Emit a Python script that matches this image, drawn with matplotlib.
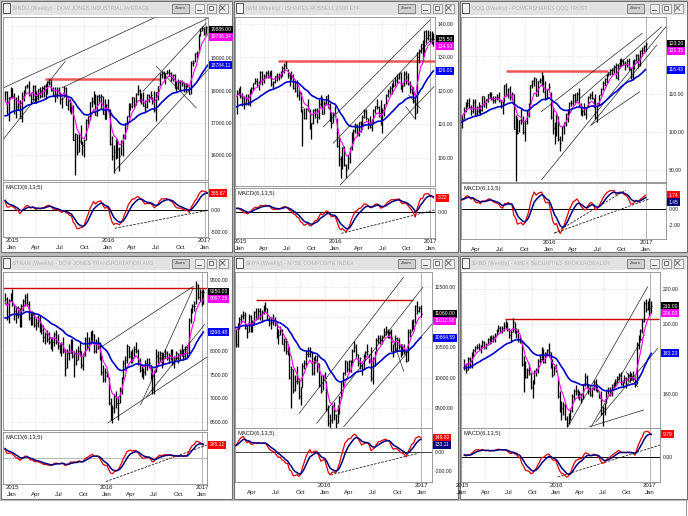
import numpy as np
import matplotlib
matplotlib.use("Agg")
import matplotlib.pyplot as plt
import matplotlib.dates as mdates
import matplotlib.transforms as mtransforms
from matplotlib.collections import LineCollection
from matplotlib.patches import Rectangle
from matplotlib.ticker import FormatStrFormatter

# ======================= DATA =======================
# ---- $INDU weekly, first bar week ending 2014-12-05
INDU_START = "2014-12-05"
INDU_HIGH = [17991, 17990, 17804, 18103, 18090, 17916, 17794, 17864, 17700, 17951,
             18020, 18140, 18206, 18288, 17960, 18160, 18180, 17980, 18060, 18110,
             18130, 18175, 18200, 18290, 18351, 18320, 18100, 18100, 18110, 18120,
             17950, 17800, 18130, 18100, 17760, 17730, 17650, 17550, 16700, 16640,
             16660, 16930, 16450, 16500, 17120, 17220, 17650, 17800, 17980, 17900,
             17870, 17880, 17900, 17840, 17750, 17600, 17750, 17420, 16600, 16300,
             16500, 16510, 16250, 16470, 16670, 17010, 17220, 17620, 17630, 17800,
             17800, 17920, 18168, 18040, 17920, 17950, 17720, 17900, 17900, 18000,
             17800, 18000, 17950, 18150, 18540, 18620, 18600, 18560, 18640, 18668,
             18580, 18500, 18500, 18300, 18360, 18340, 18330, 18280, 18250, 18250,
             18170, 18930, 18935, 19150, 19230, 19760, 19950, 19990, 19980, 19999,
             19980]
INDU_LOW = [17700, 17280, 17068, 17770, 17780, 17262, 17136, 17400, 17136, 17037,
            17686, 17930, 18080, 17835, 17602, 17700, 17630, 17630, 17700, 17780,
            17790, 17800, 17730, 17890, 18180, 17990, 17820, 17650, 17780, 17880,
            17580, 17470, 17800, 17560, 17400, 17330, 17270, 16459, 15370, 16000,
            16100, 16330, 16000, 15940, 16470, 16900, 17100, 17480, 17600, 17240,
            17200, 17660, 17420, 17260, 17130, 17110, 17400, 16300, 15840, 15450,
            15880, 15900, 15500, 15990, 15960, 16510, 16820, 17190, 17400, 17470,
            17480, 17550, 17860, 17650, 17580, 17530, 17330, 17450, 17660, 17740,
            17600, 17350, 17060, 17700, 18160, 18400, 18350, 18200, 18500, 18460,
            18310, 18300, 18080, 17990, 18050, 17990, 18140, 17960, 17950, 18100,
            17880, 17880, 18750, 18900, 19000, 19170, 19700, 19860, 19720, 19760,
            19780]
INDU_CLOSE = [17958, 17280, 17804, 18053, 17833, 17737, 17511, 17672, 17165, 17824,
              18019, 18140, 18133, 17856, 17749, 18128, 17713, 17763, 18058, 17826,
              18080, 18024, 18191, 18272, 18232, 18011, 17849, 17899, 18015, 17947,
              17730, 17760, 18086, 17568, 17690, 17373, 17477, 16460, 16643, 16102,
              16433, 16385, 16315, 16472, 17084, 17215, 17646, 17664, 17910, 17245,
              17824, 17798, 17847, 17265, 17128, 17552, 17425, 16346, 15988, 16093,
              16466, 16205, 15973, 16392, 16639, 17006, 17213, 17602, 17515, 17792,
              17577, 17897, 18003, 17773, 17740, 17535, 17500, 17873, 17807, 17865,
              17675, 17400, 17949, 18146, 18516, 18570, 18432, 18543, 18576, 18552,
              18395, 18492, 18085, 18124, 18261, 18308, 18240, 18138, 18145, 18161,
              17888, 18847, 18868, 19152, 19171, 19757, 19843, 19934, 19763, 19964,
              19886]
# seeds: fast MA, slow MA, MACD, signal at the left edge
INDU_SEEDS = [17570, 17170, 227, 230]
INDU_YTICKS = [16000, 17000, 18000, 19000, 20000]
INDU_MTICKS = [-500, 0, 500]
INDU_RED = ["2015-05-05", "2016-07-15", 18350]
INDU_TREND = [("2014-11-28", 18083, "2016-07-02", 20286),
              ("2014-11-28", 16492, "2015-07-21", 18902),
              ("2015-07-08", 18083, "2017-01-12", 20237),
              ("2016-01-26", 15517, "2017-01-20", 18698),
              ("2016-05-12", 17979, "2017-01-07", 20083),
              ("2016-07-02", 18748, "2016-11-30", 17468)]
INDU_MTREND = [("2016-01-26", -416, "2017-01-20", 0)]

# ---- IWM weekly, first bar 2014-12-19
IWM_START = "2014-12-19"
IWM_HIGH = [120.2, 121.0, 121.5, 119.5, 118.5, 119.2, 119.0, 120.5, 121.2, 122.3,
            123.8, 124.0, 123.0, 126.0, 126.0, 125.0, 125.9, 126.3, 126.0, 126.2,
            123.0, 124.6, 125.3, 125.5, 126.0, 127.5, 128.5, 129.1, 126.5, 125.5,
            126.0, 125.0, 123.0, 123.3, 120.3, 119.8, 114.5, 115.0, 115.0, 117.5,
            114.5, 110.5, 114.5, 115.0, 115.0, 117.5, 118.8, 118.3, 117.0, 118.5,
            119.0, 116.5, 113.8, 113.7, 115.5, 112.0, 106.2, 100.5, 103.2, 103.5,
            98.2, 100.8, 103.3, 107.8, 108.5, 110.5, 110.0, 110.7, 111.0, 112.7,
            114.7, 114.5, 112.0, 112.5, 111.5, 114.5, 115.6, 117.5, 115.5, 117.3,
            115.0, 116.0, 119.2, 120.5, 121.5, 122.4, 123.3, 124.3, 125.0, 125.5,
            125.8, 122.5, 126.0, 125.9, 125.5, 123.0, 121.6, 121.3, 118.0, 131.5,
            132.5, 134.1, 135.1, 138.0, 138.3, 138.2, 137.8, 137.8, 137.4]
IWM_LOW = [113.2, 118.8, 118.0, 115.6, 114.7, 115.8, 115.8, 115.5, 119.0, 120.3,
           122.0, 121.5, 120.3, 122.0, 121.7, 122.5, 124.0, 124.0, 124.0, 121.5,
           120.6, 122.3, 123.0, 123.2, 123.8, 124.5, 125.5, 126.8, 124.0, 121.5,
           123.5, 120.5, 119.7, 118.3, 117.3, 113.6, 103.5, 111.5, 111.7, 114.0,
           108.7, 105.5, 110.0, 111.8, 110.5, 111.6, 115.5, 113.0, 113.0, 115.8,
           114.8, 111.0, 108.9, 110.5, 112.4, 103.3, 97.5, 94.0, 96.6, 97.5,
           94.0, 96.8, 98.5, 102.5, 104.5, 107.5, 106.5, 106.4, 107.8, 108.5,
           112.0, 111.2, 108.5, 109.0, 108.0, 110.8, 113.5, 114.7, 112.3, 109.8,
           107.5, 112.5, 116.1, 118.3, 119.0, 119.0, 121.2, 121.5, 122.4, 123.5,
           120.6, 119.6, 121.5, 122.0, 121.7, 119.5, 119.0, 116.3, 111.5, 113.5,
           128.5, 131.3, 128.9, 130.5, 134.2, 135.3, 134.5, 134.0, 133.5]
IWM_CLOSE = [119.5, 120.5, 118.6, 118.0, 116.4, 117.8, 116.2, 120.0, 121.0, 122.3,
             123.0, 121.5, 122.6, 125.6, 123.5, 124.4, 125.5, 124.2, 125.5, 122.0,
             122.7, 124.4, 124.5, 124.5, 125.9, 126.9, 127.9, 127.0, 124.9, 123.5,
             124.5, 120.8, 122.5, 118.8, 119.8, 113.7, 115.1, 111.9, 114.7, 114.9,
             109.0, 110.5, 114.2, 114.3, 112.2, 116.0, 118.4, 113.1, 116.3, 118.4,
             116.0, 111.0, 110.4, 113.1, 112.6, 103.6, 99.6, 99.4, 103.0, 98.0,
             96.3, 100.0, 103.0, 107.6, 108.1, 109.9, 106.9, 110.6, 108.5, 112.2,
             113.9, 111.8, 110.5, 109.3, 110.7, 114.3, 115.5, 115.1, 113.4, 110.0,
             114.4, 116.0, 118.9, 120.0, 121.0, 122.3, 121.5, 123.3, 123.8, 125.4,
             120.7, 121.6, 125.0, 124.2, 122.0, 120.5, 119.6, 117.3, 113.5, 130.1,
             131.8, 134.1, 129.9, 137.9, 135.9, 136.7, 134.9, 136.6, 135.5]
IWM_SEEDS = [118.0, 115.0, 0.9, 0.9]
IWM_YTICKS = [100, 110, 120, 130, 140]
IWM_MTICKS = [0, 5]
IWM_RED = ["2015-05-27", "2017-01-19", 129.0]
IWM_TREND = [("2015-11-17", 109.3, "2016-12-31", 141.2),
             ("2015-12-25", 104.4, "2017-01-15", 136.2),
             ("2016-01-20", 91.9, "2017-01-15", 121.3),
             ("2016-10-09", 118.8, "2016-11-24", 114.8),
             ("2016-09-29", 115.3, "2016-11-01", 111.9)]
IWM_MTREND = [("2016-01-25", -4.85, "2017-01-17", 0.45)]

# ---- QQQ weekly, first bar 2015-02-06
QQQ_START = "2015-02-06"
QQQ_HIGH = [104.5, 106.5, 107.8, 108.8, 109.0, 107.0, 108.8, 108.6, 106.8, 107.8,
            107.2, 109.5, 109.6, 108.8, 110.0, 110.5, 110.5, 109.5, 109.5, 110.0,
            110.5, 108.5, 108.2, 112.5, 113.0, 111.5, 112.0, 110.5, 110.0, 104.5,
            103.8, 103.2, 106.0, 104.2, 102.8, 105.7, 107.5, 112.5, 113.8, 114.5,
            114.3, 113.5, 114.3, 115.9, 115.0, 113.5, 111.4, 112.8, 110.5, 106.5,
            102.5, 104.8, 104.3, 99.0, 101.5, 102.5, 105.0, 106.0, 108.0, 108.5,
            110.0, 110.2, 110.5, 111.5, 107.5, 106.0, 107.5, 106.5, 109.5, 110.2,
            110.8, 109.0, 110.0, 107.7, 109.8, 111.5, 113.3, 114.2, 115.2, 115.8,
            116.5, 116.8, 117.6, 118.3, 117.8, 119.3, 119.5, 119.2, 118.7, 119.1,
            119.5, 116.8, 119.0, 119.2, 120.5, 120.6, 121.5, 122.3, 123.0, 123.7]
QQQ_LOW = [101.0, 103.5, 105.2, 106.5, 106.3, 104.5, 105.0, 104.3, 104.5, 105.0,
           104.8, 105.5, 106.5, 106.2, 108.0, 109.0, 108.5, 107.5, 107.5, 108.3,
           108.0, 106.2, 104.6, 108.0, 109.5, 109.0, 108.5, 108.5, 100.8, 87.0,
           99.5, 100.0, 102.0, 99.5, 97.5, 102.0, 104.0, 106.8, 111.5, 112.0,
           109.5, 109.5, 112.8, 112.0, 110.5, 108.5, 108.8, 111.0, 103.5, 99.5,
           96.8, 99.0, 97.5, 94.9, 97.5, 99.5, 101.5, 102.5, 105.0, 106.8,
           107.0, 107.5, 108.2, 106.5, 104.5, 104.2, 104.5, 103.5, 106.5, 108.7,
           108.8, 106.5, 103.5, 102.6, 107.0, 109.8, 111.0, 112.0, 113.0, 114.8,
           115.0, 115.0, 115.5, 114.2, 113.8, 116.8, 117.5, 117.7, 116.2, 117.0,
           116.3, 114.0, 113.7, 116.5, 118.8, 116.8, 117.5, 120.3, 121.2, 121.4]
QQQ_CLOSE = [103.5, 105.8, 107.2, 107.6, 106.5, 105.5, 108.0, 105.0, 105.6, 107.2,
             105.8, 109.4, 107.7, 108.7, 109.9, 110.2, 108.7, 108.5, 108.9, 109.2,
             108.4, 107.0, 107.5, 112.3, 109.8, 111.2, 109.3, 110.1, 100.9, 104.0,
             99.8, 103.2, 103.0, 99.9, 102.8, 105.6, 107.4, 112.3, 113.3, 114.2,
             109.6, 113.4, 113.7, 114.3, 110.5, 108.7, 111.4, 111.9, 103.9, 101.0,
             102.0, 104.5, 98.1, 97.0, 101.2, 102.3, 104.7, 105.8, 107.7, 107.7,
             109.8, 108.3, 109.9, 106.9, 104.9, 105.4, 104.8, 106.2, 109.3, 109.8,
             108.9, 106.6, 104.0, 107.6, 109.7, 111.3, 113.0, 113.9, 115.0, 115.4,
             116.3, 116.2, 117.2, 114.3, 117.4, 119.1, 118.7, 118.3, 118.0, 118.6,
             116.6, 114.8, 117.5, 119.0, 120.3, 117.8, 121.3, 121.5, 122.7, 123.2]
QQQ_SEEDS = [104.5, 102.6, 1.3, 1.3]
QQQ_YTICKS = [90, 100, 110, 120]
QQQ_MTICKS = [-2, 0, 2]
QQQ_RED = ["2015-07-23", "2016-08-09", 116.1]
QQQ_TREND = [("2015-12-04", 87.4, "2017-03-16", 127.7),
             ("2015-12-02", 105.3, "2016-12-17", 126.0),
             ("2016-04-27", 108.9, "2017-02-28", 127.7),
             ("2016-06-07", 101.8, "2017-02-10", 122.9),
             ("2016-06-07", 101.8, "2016-12-08", 110.6)]
QQQ_MTREND = [("2016-01-21", -3.06, "2016-10-16", 2.4),
              ("2016-01-21", -3.06, "2017-01-12", 1.26)]

# ---- $TRAN weekly, first bar 2014-12-05
TRAN_START = "2014-12-05"
TRAN_HIGH = [9220, 9150, 9100, 9230, 9300, 9000, 8950, 8950, 8900, 9000,
             9100, 9200, 9220, 9050, 8800, 8850, 8800, 8700, 8750, 8750,
             8600, 8550, 8400, 8450, 8400, 8300, 8300, 8400, 8450, 8350,
             8150, 8200, 8300, 8050, 8050, 8150, 8250, 8250, 8000, 8050,
             8100, 8200, 8000, 7950, 8300, 8400, 8300, 8420, 8450, 8350,
             8250, 8300, 8200, 7950, 7700, 7650, 7600, 7450, 7000, 6850,
             7100, 7150, 7050, 7250, 7450, 7800, 7900, 8150, 8100, 8000,
             8050, 8100, 8200, 8050, 7850, 7700, 7650, 7800, 7850, 7850,
             7700, 7650, 7600, 8050, 8000, 8000, 7980, 7950, 8050, 8000,
             7950, 8050, 8050, 7900, 8000, 7950, 8050, 8150, 8050, 8100,
             8100, 8700, 8900, 9000, 9050, 9480, 9420, 9300, 9280, 9300]
TRAN_LOW = [9000, 8650, 8600, 9050, 8950, 8650, 8600, 8700, 8500, 8500,
            8850, 8950, 8950, 8650, 8550, 8550, 8500, 8450, 8500, 8400,
            8350, 8200, 8150, 8200, 8150, 8050, 8000, 8100, 8150, 8050,
            7950, 7900, 7950, 7480, 7650, 7800, 7950, 7850, 7450, 7700,
            7800, 7900, 7650, 7600, 7900, 8050, 8000, 8150, 8200, 7950,
            7950, 8050, 7800, 7500, 7350, 7350, 7450, 6850, 6550, 6480,
            6700, 6800, 6550, 6900, 7100, 7400, 7600, 7750, 7850, 7750,
            7750, 7850, 7950, 7700, 7550, 7450, 7400, 7500, 7600, 7650,
            7400, 7100, 7100, 7550, 7750, 7780, 7650, 7700, 7850, 7800,
            7750, 7800, 7700, 7650, 7800, 7750, 7800, 7900, 7800, 7850,
            7850, 7950, 8600, 8800, 8850, 9000, 9100, 9050, 8950, 9000]
TRAN_CLOSE = [9100, 8700, 9080, 9200, 9000, 8850, 8750, 8900, 8550, 8950,
              9050, 9150, 9000, 8700, 8650, 8800, 8550, 8600, 8700, 8450,
              8450, 8300, 8350, 8250, 8200, 8100, 8200, 8350, 8200, 8100,
              8050, 8150, 8000, 7650, 7950, 7950, 8150, 7900, 7950, 7800,
              8000, 7950, 7700, 7900, 8250, 8100, 8200, 8300, 8350, 8000,
              8150, 8200, 7900, 7550, 7400, 7550, 7500, 6900, 6650, 6800,
              7050, 6900, 6900, 7200, 7400, 7750, 7800, 8100, 7900, 7950,
              7800, 8050, 8000, 7750, 7600, 7500, 7550, 7750, 7700, 7750,
              7450, 7200, 7550, 7900, 7850, 7950, 7750, 7900, 7950, 7850,
              7900, 8000, 7750, 7850, 7950, 7850, 8000, 7950, 7900, 8050,
              7950, 8650, 8850, 8950, 8950, 9400, 9150, 9250, 9050, 9250]
TRAN_SEEDS = [9040, 8670, 214, 214]
TRAN_YTICKS = [6500, 7000, 7500, 8000, 8500, 9000, 9500]
TRAN_MTICKS = []
TRAN_RED = ["2014-11-27", "2017-01-20", 9326]
TRAN_TREND = [("2015-11-28", 8042, "2016-11-28", 9361),
              ("2016-01-04", 6480, "2017-01-19", 7869),
              ("2016-05-09", 6861, "2016-11-28", 9326),
              ("2016-06-01", 7036, "2017-01-11", 8562)]
TRAN_MTREND = [("2015-12-28", -508, "2017-01-19", 279)]

# ---- $NYA weekly, first bar 2015-01-30
NYA_START = "2015-01-30"
NYA_HIGH = [10800, 10900, 11000, 11050, 11100, 11080, 10850, 11050, 11030, 10950,
            11100, 11150, 11150, 11150, 11120, 11200, 11254, 11150, 11000, 11000,
            11050, 11000, 10900, 10800, 10850, 10800, 10650, 10650, 10550, 10500,
            10200, 10150, 10050, 10200, 10000, 9850, 10250, 10300, 10450, 10500,
            10500, 10450, 10350, 10380, 10380, 10250, 10050, 10050, 10100, 9950,
            9550, 9400, 9550, 9600, 9400, 9550, 9700, 9950, 10100, 10300,
            10280, 10300, 10300, 10480, 10600, 10550, 10400, 10350, 10250, 10400,
            10450, 10550, 10400, 10500, 10350, 10450, 10650, 10700, 10700, 10700,
            10820, 10850, 10800, 10780, 10800, 10550, 10700, 10680, 10650, 10550,
            10550, 10550, 10450, 10800, 10800, 10950, 10980, 11200, 11270, 11180,
            11200]
NYA_LOW = [10500, 10500, 10800, 10900, 10980, 10800, 10650, 10750, 10750, 10750,
           10880, 10950, 10980, 10950, 10930, 11050, 11100, 10950, 10850, 10800,
           10880, 10850, 10650, 10550, 10700, 10550, 10450, 10400, 10380, 9980,
           9500, 9750, 9780, 9900, 9650, 9550, 9850, 10150, 10200, 10350,
           10350, 10050, 10050, 10250, 10100, 9850, 9750, 9800, 9950, 9450,
           9200, 9030, 9250, 9300, 9050, 9250, 9400, 9650, 9850, 10050,
           10100, 10100, 10100, 10250, 10420, 10350, 10200, 10150, 10050, 10150,
           10300, 10380, 10250, 9950, 9900, 10200, 10450, 10580, 10550, 10550,
           10680, 10700, 10650, 10650, 10450, 10350, 10450, 10450, 10480, 10350,
           10380, 10400, 10260, 10280, 10680, 10780, 10800, 10900, 11050, 11080,
           11000]
NYA_CLOSE = [10550, 10850, 10980, 11020, 11040, 10820, 10750, 11020, 10820, 10900,
             11080, 10980, 11100, 11050, 11080, 11150, 11150, 10980, 10900, 10930,
             10950, 10900, 10750, 10700, 10800, 10560, 10600, 10450, 10500, 10000,
             10150, 9800, 9950, 9950, 9700, 9850, 10200, 10250, 10400, 10400,
             10450, 10080, 10320, 10300, 10250, 9880, 9780, 10030, 10000, 9480,
             9250, 9300, 9530, 9380, 9250, 9500, 9680, 9950, 10080, 10280,
             10150, 10280, 10200, 10450, 10500, 10400, 10250, 10200, 10150, 10380,
             10420, 10450, 10300, 10000, 10330, 10420, 10620, 10650, 10620, 10680,
             10750, 10780, 10700, 10750, 10450, 10450, 10650, 10620, 10520, 10450,
             10480, 10420, 10280, 10750, 10760, 10950, 10850, 11180, 11100, 11150,
             11060]
NYA_SEEDS = [10880, 10850, 74, 74]
NYA_YTICKS = [9500, 10000, 10500, 11000, 11500]
NYA_MTICKS = [-200, 0, 200]
NYA_RED = ["2015-04-16", "2016-11-30", 11283]
NYA_TREND = [("2015-09-27", 9411, "2016-10-25", 11662),
             ("2015-12-02", 9244, "2017-01-06", 11495),
             ("2016-03-13", 9189, "2017-02-09", 10883),
             ("2016-09-04", 10772, "2016-10-26", 10105)]
NYA_MTREND = [("2016-01-23", -242, "2016-12-19", -14)]

# ---- $XBD weekly, first bar 2015-01-09
XBD_START = "2015-01-09"
XBD_HIGH = [180, 178, 181, 181, 184, 186, 187.5, 188.5, 189, 188,
            191, 190.5, 189, 192, 193, 193.5, 194, 195, 197, 199.5,
            199, 199, 201, 202, 201, 198, 197, 203.3, 201, 197.5,
            197, 193, 191, 182, 179, 175, 178, 172, 168, 174,
            175, 180, 183, 187, 186, 184, 186, 189, 184, 180,
            176, 177, 170, 162, 156, 155.5, 155, 147.5, 149, 152,
            160, 163, 165, 163, 162, 160.5, 166, 172, 171, 165.5,
            164, 164, 168, 168.5, 166, 162, 162, 153, 155, 162,
            164, 164, 165.5, 167, 168.5, 170.5, 172, 172.5, 168, 171,
            170, 172, 173, 172, 173, 170, 190, 193.5, 197, 203,
            213, 214, 213, 215, 213]
XBD_LOW = [174, 172, 174, 175, 175, 182, 184, 185.5, 185, 183.5,
           186.5, 186, 186, 188, 188.5, 189, 189.5, 190, 193.5, 195.5,
           195.5, 195, 196, 197.5, 196, 192, 190, 195.5, 195, 192,
           190, 189, 176, 161, 169, 169, 171, 163, 158, 166,
           170.5, 172, 177.5, 179.5, 178, 178, 182, 181, 175, 170,
           171, 172.5, 158, 150, 145, 148, 145, 141, 143, 145,
           150, 156, 159.5, 158, 156.5, 155, 157, 164.5, 164, 160,
           159, 158.5, 162.5, 162, 161, 157.5, 148, 142, 148, 155,
           160, 159, 159, 164, 164.5, 166, 168, 165, 164, 166.5,
           163.5, 167.5, 167, 168, 168, 164, 165.5, 186, 191, 195,
           201, 207, 208, 205, 206]
XBD_CLOSE = [176, 174, 180, 176, 183, 185, 187, 187, 186, 187,
             190, 187, 188, 191.5, 189, 192, 192.5, 194, 196, 198,
             196, 197.5, 199, 198.5, 197, 194, 195.5, 201, 195.5, 196,
             191, 192, 177, 178, 170, 174, 172, 164, 167, 173,
             173, 179, 180, 186.5, 178.5, 183.5, 185, 184, 175.5, 171,
             175, 173, 159, 153, 152, 154, 146, 143.5, 147, 151,
             159, 162, 162, 159, 160, 157, 165, 170, 165, 162,
             159.5, 163, 167, 163.5, 161.5, 158, 149, 152, 154.5, 161.5,
             162.5, 160.5, 165, 165.5, 167.5, 169.5, 171, 165.5, 167, 169,
             168.5, 171, 170, 170.5, 169, 165.5, 188, 192, 196.5, 201.5,
             212, 208.5, 211, 209, 210]
XBD_SEEDS = [177.7, 174.9, 1.0, 1.0]
XBD_YTICKS = [160, 180, 200, 220]
XBD_MTICKS = [0, 10]
XBD_RED = ["2015-06-16", "2017-02-06", 202.9]
XBD_TREND = [("2016-02-16", 141.3, "2016-12-23", 221.3),
             ("2016-05-17", 141.3, "2016-12-10", 193.7),
             ("2016-06-05", 144.2, "2017-01-31", 186.1),
             ("2016-05-11", 141.3, "2016-12-07", 150.9),
             ("2016-09-30", 172.7, "2016-11-14", 164.2)]
XBD_MTREND = [("2016-01-08", -8.6, "2017-02-09", 5.2)]

TITLES = {
    'INDU': "$INDU (Weekly) - DOW JONES INDUSTRIAL AVERAGE",
    'IWM': "IWM (Weekly) - ISHARES RUSSELL 2000 ETF",
    'QQQ': "QQQ (Weekly) - POWERSHARES QQQ TRUST",
    'TRAN': "$TRAN (Weekly) - DOW JONES TRANSPORTATION AVG",
    'NYA': "$NYA (Weekly) - NYSE COMPOSITE INDEX",
    'XBD': "$XBD (Weekly) - AMEX SECURITIES BROKER/DEALER",
}

# ======================= LAYOUT (pixels) =======================
FW, FH = 688, 516
LAYOUT = {
    'INDU': dict(win=(0, 0, 233, 253), price=(3, 17, 208, 180), macd=(3, 182, 208, 237),
                 xlim=("2014-11-27", "2017-01-14"), ylim=(15230, 20280), mylim=(-614, 636),
                 red_lw=1.8, red_c='#f05555', zero_c='#000000', navy_box=False),
    'IWM': dict(win=(233, 0, 459, 253), price=(235, 17, 435, 186), macd=(235, 188, 435, 238),
                xlim=("2014-12-12", "2017-01-19"), ylim=(91.6, 142.1), mylim=(-5.9, 5.45),
                red_lw=1.8, red_c='#f05555', zero_c='#000000', navy_box=False),
    'QQQ': dict(win=(459, 0, 688, 253), price=(461, 17, 666, 182), macd=(461, 183, 666, 239),
                xlim=("2015-02-03", "2017-03-17"), ylim=(86.8, 130.3), mylim=(-3.8, 3.3),
                red_lw=1.8, red_c='#f05555', zero_c='#000000', navy_box=True),
    'TRAN': dict(win=(0, 255, 233, 500), price=(3, 272, 207, 430), macd=(3, 432, 207, 484),
                 xlim=("2014-11-27", "2017-01-20"), ylim=(6333, 9667), mylim=(-560, 560),
                 red_lw=1.0, red_c='#d00000', zero_c='#b8b8b8', navy_box=False),
    'NYA': dict(win=(233, 255, 459, 500), price=(235, 272, 432, 428), macd=(235, 428, 432, 482),
                xlim=("2015-01-27", "2017-02-10"), ylim=(9167, 11750), mylim=(-316, 253),
                red_lw=1.0, red_c='#d00000', zero_c='#404040', navy_box=True),
    'XBD': dict(win=(459, 255, 688, 500), price=(461, 272, 660, 428), macd=(461, 428, 660, 482),
                xlim=("2014-12-27", "2017-02-09"), ylim=(140.6, 229.7), mylim=(-10.8, 12.6),
                red_lw=1.0, red_c='#d00000', zero_c='#000000', navy_box=False),
}

plt.rcParams['font.family'] = ['Liberation Sans', 'DejaVu Sans']
TXT = '#1e1e1e'
TICK_FS = 3.7
BOX_FS = 3.6
BOX_H = 7.0   # pixel height of one value box


def px_rect(b):
    x0, y0, x1, y1 = b
    return [x0 / FW, 1 - y1 / FH, (x1 - x0) / FW, (y1 - y0) / FH]


def ema(vals, span, seed):
    a = 2.0 / (span + 1.0)
    out, e = [], seed
    for v in vals:
        e = e + a * (v - e)
        out.append(e)
    return np.array(out)


def d2n(s):
    return mdates.datestr2num(s)


def quarter_months(x0n, x1n, s0, s1):
    m = np.datetime64(s0, 'M')
    m1 = np.datetime64(s1, 'M')
    out = []
    while m <= m1:
        ys, ms = str(m).split('-')
        mm = int(ms)
        if mm in (1, 4, 7, 10):
            dn = mdates.date2num(m.astype('datetime64[D]'))
            if x0n <= dn <= x1n:
                out.append((dn, mm, ys))
        m = m + np.timedelta64(1, 'M')
    return out


def place_boxes(vals, ylim, hpx):
    """pixel positions (from axes bottom) for value boxes; the first one stays at its value,
    the others are pushed apart so that no two boxes overlap"""
    def to_px(v):
        return (v - ylim[0]) / (ylim[1] - ylim[0]) * hpx
    placed = []
    for i, v in enumerate(vals):
        p = to_px(v)
        for _ in range(20):
            clash = [q for q in placed if abs(p - q) < BOX_H]
            if not clash:
                break
            q = clash[0]
            p = q + BOX_H if p > q else q - BOX_H
        placed.append(p)
    return placed


MON = {1: 'Jan', 4: 'Apr', 7: 'Jul', 10: 'Oct'}

fig = plt.figure(figsize=(FW / 100, FH / 100), dpi=100)
fig.patch.set_facecolor('white')

bg = fig.add_axes([0, 0, 1, 1], zorder=0)
bg.set_xlim(0, FW)
bg.set_ylim(FH, 0)
bg.axis('off')
bg.add_patch(Rectangle((0, 0), FW, 501, fc='#bdbdbd', ec='none'))
bg.plot([686, 686], [500, 516], color='#9a9a9a', lw=0.8)

for key, lay in LAYOUT.items():
    x0, y0, x1, y1 = lay['win']
    bg.add_patch(Rectangle((x0 + 0.5, y0 + 0.5), x1 - x0 - 1.5, y1 - y0 - 1.5,
                           fc='white', ec='#707070', lw=0.8))
    bg.add_patch(Rectangle((x0 + 1.5, y0 + 1.5), x1 - x0 - 3.5, 13, fc='#e2e2e2', ec='none'))
    bg.add_patch(Rectangle((x0 + 2.5, y0 + 3), 7, 10, fc='#f4f4f4', ec='#404040', lw=0.6))
    bg.text(x0 + 13, y0 + 8.5, TITLES[key], fontsize=3.9, color='#b4b4b4',
            va='center', ha='left')
    bx = x1 - 61
    bg.add_patch(Rectangle((bx, y0 + 3.5), 17, 9, fc='#d0d0d0', ec='#606060', lw=0.5))
    bg.text(bx + 8.5, y0 + 8, 'Zoom', fontsize=3.2, color='#404040', ha='center', va='center')
    for k in range(3):
        bxx = x1 - 38 + k * 12
        bg.add_patch(Rectangle((bxx, y0 + 3.5), 9, 9, fc='#eeeeee', ec='#808080', lw=0.5))
    bg.plot([x1 - 36, x1 - 32], [y0 + 10, y0 + 10], color='#404040', lw=0.6)
    bg.add_patch(Rectangle((x1 - 24.5, y0 + 6), 4, 4, fc='none', ec='#404040', lw=0.5))
    bg.plot([x1 - 13, x1 - 8], [y0 + 5.5, y0 + 10.5], color='#404040', lw=0.5)
    bg.plot([x1 - 13, x1 - 8], [y0 + 10.5, y0 + 5.5], color='#404040', lw=0.5)

DATA = {
    'INDU': (INDU_START, INDU_HIGH, INDU_LOW, INDU_CLOSE, INDU_SEEDS, INDU_YTICKS, INDU_MTICKS,
             INDU_RED, INDU_TREND, INDU_MTREND),
    'IWM': (IWM_START, IWM_HIGH, IWM_LOW, IWM_CLOSE, IWM_SEEDS, IWM_YTICKS, IWM_MTICKS,
            IWM_RED, IWM_TREND, IWM_MTREND),
    'QQQ': (QQQ_START, QQQ_HIGH, QQQ_LOW, QQQ_CLOSE, QQQ_SEEDS, QQQ_YTICKS, QQQ_MTICKS,
            QQQ_RED, QQQ_TREND, QQQ_MTREND),
    'TRAN': (TRAN_START, TRAN_HIGH, TRAN_LOW, TRAN_CLOSE, TRAN_SEEDS, TRAN_YTICKS, TRAN_MTICKS,
             TRAN_RED, TRAN_TREND, TRAN_MTREND),
    'NYA': (NYA_START, NYA_HIGH, NYA_LOW, NYA_CLOSE, NYA_SEEDS, NYA_YTICKS, NYA_MTICKS,
            NYA_RED, NYA_TREND, NYA_MTREND),
    'XBD': (XBD_START, XBD_HIGH, XBD_LOW, XBD_CLOSE, XBD_SEEDS, XBD_YTICKS, XBD_MTICKS,
            XBD_RED, XBD_TREND, XBD_MTREND),
}


def draw_boxes(ax, items, ylim, hpx):
    """items: list of (value, colour), first item has priority; returns pixel rows used"""
    rows = place_boxes([v for v, _ in items], ylim, hpx)
    for (v, fc), p in zip(items, rows):
        ax.text(1.012, p / hpx, '%.2f' % v, transform=ax.transAxes, fontsize=BOX_FS,
                color='white', va='center', ha='left', clip_on=False, zorder=6,
                bbox=dict(boxstyle='square,pad=0.3', fc=fc, ec='none'))
    return rows


def free_ticks(ticks, rows, ylim, hpx, gap=6.5):
    """keep only the tick labels that a value box does not cover"""
    keep = []
    for t in ticks:
        pt = (t - ylim[0]) / (ylim[1] - ylim[0]) * hpx
        ok = all(abs(pt - pb) >= gap for pb in rows)
        if pt < 2 or pt > hpx - 2:
            ok = False
        if ok:
            keep.append(t)
    return keep


def style_axes(ax, yt):
    ax.set_facecolor('white')
    for sp in ax.spines.values():
        sp.set_color('#8a8a8a')
        sp.set_linewidth(0.6)
    ax.yaxis.tick_right()
    ax.set_yticks(yt)
    ax.yaxis.set_major_formatter(FormatStrFormatter('%.2f'))
    ax.tick_params(axis='y', length=0, pad=1.8, labelsize=TICK_FS, colors=TXT)
    ax.set_xticks([])


for key, lay in LAYOUT.items():
    start, hi, lo, cl, seeds, yt, mt, red, trend, mtrend = DATA[key]
    n = min(len(hi), len(lo), len(cl))
    hi = np.array(hi[:n], float)
    lo = np.array(lo[:n], float)
    cl = np.array(cl[:n], float)
    dates = mdates.date2num(np.datetime64(start) + np.arange(n) * np.timedelta64(7, 'D'))
    x0n, x1n = d2n(lay['xlim'][0]), d2n(lay['xlim'][1])
    months = quarter_months(x0n, x1n, lay['xlim'][0], lay['xlim'][1])

    fast = ema(cl, 6, seeds[0])
    slow = ema(cl, 30, seeds[1])
    e6 = ema(cl, 6, cl[0])
    e13 = ema(cl, 13, cl[0] - seeds[2])
    macd = e6 - e13
    sig = ema(macd, 5, seeds[3])

    # ---------------- price panel ----------------
    ax = fig.add_axes(px_rect(lay['price']), zorder=2)
    ax.set_xlim(x0n, x1n)
    ax.set_ylim(*lay['ylim'])
    hp = lay['price'][3] - lay['price'][1]
    rows = draw_boxes(ax, [(cl[-1], '#000000'), (fast[-1], '#ff00ff'), (slow[-1], '#0000ff')],
                      lay['ylim'], hp)
    style_axes(ax, free_ticks(yt, rows, lay['ylim'], hp))
    for t in yt:
        ax.axhline(t, color='#cfcfcf', lw=0.5, ls=(0, (1, 2)), zorder=0)
    for dn, mm, ys in months:
        if mm == 1 and ys == '2017':
            ax.axvline(dn, color='#a8a8a8', lw=0.6, zorder=0)
        else:
            ax.axvline(dn, color='#cfcfcf', lw=0.5, ls=(0, (1, 2)), zorder=0)

    ax.plot([d2n(red[0]), d2n(red[1])], [red[2], red[2]], color=lay['red_c'],
            lw=lay['red_lw'], zorder=2, solid_capstyle='butt')
    for (da, va, db, vb) in trend:
        ax.plot([d2n(da), d2n(db)], [va, vb], color='#262626', lw=0.5, zorder=2)

    segs = [[(d, l), (d, h)] for d, l, h in zip(dates, lo, hi)]
    ticks = [[(d, c), (d + 3.5, c)] for d, c in zip(dates, cl)]
    ax.add_collection(LineCollection(segs + ticks, colors='black', linewidths=0.95, zorder=3))

    ax.plot(dates, fast, color='#ff00ff', lw=0.8, zorder=4)
    ax.plot(dates, slow, color='#0000cc', lw=1.2, zorder=4)

    # ---------------- MACD panel ----------------
    axm = fig.add_axes(px_rect(lay['macd']), zorder=2)
    axm.set_xlim(x0n, x1n)
    axm.set_ylim(*lay['mylim'])
    hm = lay['macd'][3] - lay['macd'][1]
    mitems = [(macd[-1], '#ff0000')] + ([(sig[-1], '#000080')] if lay['navy_box'] else [])
    mrows = draw_boxes(axm, mitems, lay['mylim'], hm)
    style_axes(axm, free_ticks(mt, mrows, lay['mylim'], hm))
    for dn, mm, ys in months:
        if mm == 1 and ys == '2017':
            axm.axvline(dn, color='#a8a8a8', lw=0.6, zorder=0)
        else:
            axm.axvline(dn, color='#cfcfcf', lw=0.5, ls=(0, (1, 2)), zorder=0)
    axm.axhline(0, color=lay['zero_c'], lw=0.7, zorder=1)

    for (da, va, db, vb) in mtrend:
        axm.plot([d2n(da), d2n(db)], [va, vb], color='#202020', lw=0.6, ls=(0, (3, 1.5)), zorder=2)
    axm.plot(dates, macd, color='#e00000', lw=0.9, zorder=3)
    axm.plot(dates, sig, color='#000080', lw=1.1, zorder=3)
    axm.text(0.012, 0.95, 'MACD(6,13,5)', transform=axm.transAxes, fontsize=4.2,
             color=TXT, va='top', ha='left', zorder=5)

    # ---------------- date labels ----------------
    trd = mtransforms.blended_transform_factory(axm.transData, axm.transAxes)
    for dn, mm, ys in months:
        axm.annotate(MON[mm], xy=(dn, 0), xycoords=trd, xytext=(0, -7.3),
                     textcoords='offset points', ha='center', va='center',
                     fontsize=4.4, color=TXT, annotation_clip=False)
        if mm == 1:
            axm.annotate(ys, xy=(dn, 0), xycoords=trd, xytext=(0, -2.4),
                         textcoords='offset points', ha='center', va='center',
                         fontsize=4.4, color=TXT, annotation_clip=False)

fig.savefig('out.png', dpi=100, facecolor='white')
